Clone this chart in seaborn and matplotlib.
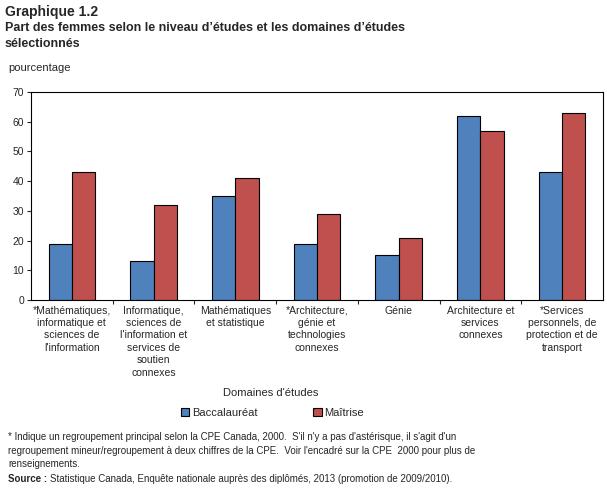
import pandas as pd
import numpy as np
import matplotlib.pyplot as plt
import seaborn as sns

# categories and values
domaines = [
    "*Mathématiques,\ninformatique et\nsciences de\nl'information",
    "Informatique,\nsciences de\nl'information et\nservices de\nsoutien\nconnexes",
    "Mathématiques\net statistique",
    "*Architecture,\ngénie et\ntechnologies\nconnexes",
    "Génie",
    "Architecture et\nservices\nconnexes",
    "*Services\npersonnels, de\nprotection et de\ntransport",
]
baccalaureat = [19, 13, 35, 19, 15, 62, 43]
maitrise = [43, 32, 41, 29, 21, 57, 63]
niveaux = ["Baccalauréat", "Maîtrise"]
couleurs = ["#4F81BD", "#C0504D"]

df = pd.DataFrame({
    "domaine": domaines * 2,
    "niveau": [niveaux[0]] * len(domaines) + [niveaux[1]] * len(domaines),
    "valeur": baccalaureat + maitrise,
})

sns.set_style("white")
plt.rcParams['font.family'] = ['Liberation Sans', 'DejaVu Sans']

fig = plt.figure(figsize=(6.07, 4.93), dpi=100)
ax = fig.add_axes([31 / 607, 1 - 300 / 493, 572 / 607, 208 / 493])

sns.barplot(data=df, x="domaine", y="valeur", hue="niveau", palette=couleurs,
            width=0.57, edgecolor="black", linewidth=0.8, saturation=1,
            ax=ax, legend=False)

ax.set_ylim(0, 70)
ax.set_xlim(-0.5, len(domaines) - 0.5)
ax.set_yticks(range(0, 71, 10))
ax.tick_params(axis='y', labelsize=7.5, length=3, direction='out', left=True, width=0.8, pad=2)
ax.set_xticks(range(len(domaines)))
ax.set_xticklabels(domaines, fontsize=7.5, linespacing=1.3)
ax.tick_params(axis='x', length=0, pad=4)
ax.set_xticks(np.arange(0.5, len(domaines) - 0.5, 1), minor=True)
ax.tick_params(axis='x', which='minor', length=3, direction='out', bottom=True, width=0.8)
for s in ax.spines.values():
    s.set_color("black")
    s.set_linewidth(0.8)
ax.set_xlabel("")
ax.set_ylabel("")

fig.text(271 / 607, 1 - 393 / 493, "Domaines d'études", fontsize=8, ha='center', va='center')
fig.text(8 / 607, 1 - 68 / 493, "pourcentage", fontsize=8, va='center')

# legend
handles = [plt.Rectangle((0, 0), 1, 1, facecolor=c, edgecolor='black', linewidth=0.8) for c in couleurs]
fig.legend(handles, niveaux, loc='center', bbox_to_anchor=(272 / 607, 1 - 413 / 493), ncol=2,
           frameon=False, fontsize=8, handlelength=0.8, handleheight=0.8, handletextpad=0.2,
           columnspacing=5.0)

fig.text(5 / 607, 1 - 12 / 493, "Graphique 1.2", fontsize=10, fontweight='bold', va='center')
fig.text(5 / 607, 1 - 28 / 493, "Part des femmes selon le niveau d’études et les domaines d’études",
         fontsize=9, fontweight='bold', va='center')
fig.text(5 / 607, 1 - 44 / 493, "sélectionnés", fontsize=9, fontweight='bold', va='center')

fig.text(8 / 607, 1 - 437 / 493,
         "* Indique un regroupement principal selon la CPE Canada, 2000.  S'il n'y a pas d'astérisque, il s'agit d'un",
         fontsize=7, va='center')
fig.text(8 / 607, 1 - 451 / 493,
         "regroupement mineur/regroupement à deux chiffres de la CPE.  Voir l'encadré sur la CPE  2000 pour plus de",
         fontsize=7, va='center')
fig.text(8 / 607, 1 - 464 / 493, "renseignements.", fontsize=7, va='center')
fig.text(8 / 607, 1 - 479 / 493, "Source :", fontsize=7, fontweight='bold', va='center')
fig.text(50 / 607, 1 - 479 / 493,
         "Statistique Canada, Enquête nationale auprès des diplômés, 2013 (promotion de 2009/2010).",
         fontsize=7, va='center')

fig.savefig("out.png", dpi=100)
